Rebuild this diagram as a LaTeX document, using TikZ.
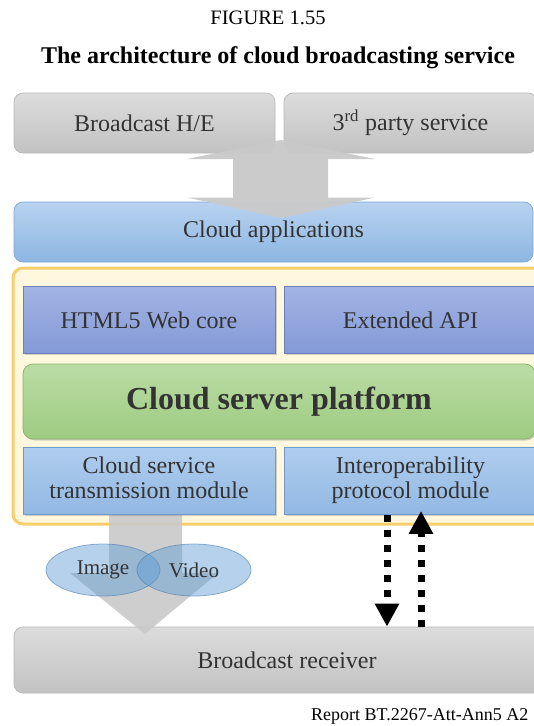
\documentclass[tikz,border=0pt]{standalone}
\usepackage{fontspec}
\setmainfont{Liberation Serif}
\usetikzlibrary{arrows.meta,shadows,shapes.geometric,positioning}
\tikzset{every picture/.style={line width=0.75pt}}

\definecolor{txtgray}{HTML}{333333}
\definecolor{graytop}{HTML}{DCDCDC}
\definecolor{graybot}{HTML}{C2C2C2}
\definecolor{graybd}{HTML}{B8B8B8}
\definecolor{apptop}{HTML}{B8D2EF}
\definecolor{appbot}{HTML}{8DB6E2}
\definecolor{appbd}{HTML}{7FA8D6}
\definecolor{paneltop}{HTML}{FFF8DF}
\definecolor{panelbd}{HTML}{F8CF6A}
\definecolor{coretop}{HTML}{A3B4E5}
\definecolor{corebot}{HTML}{8399D6}
\definecolor{corebd}{HTML}{6A7FC0}
\definecolor{plattop}{HTML}{BADCA4}
\definecolor{platbot}{HTML}{9ECB82}
\definecolor{platbd}{HTML}{85B468}
\definecolor{modtop}{HTML}{AFCDEE}
\definecolor{modbot}{HTML}{92B8E3}
\definecolor{modbd}{HTML}{7199CC}
\definecolor{blkarrow}{HTML}{C9C9C9}
\definecolor{ellfill}{HTML}{5B9BD5}

\begin{document}
\begin{tikzpicture}[x=1pt,y=-1pt,
  lbl/.style={text=txtgray,font=\fontsize{24}{23}\selectfont,align=center},
  graybox/.style={lbl,rectangle,rounded corners=9pt,draw=graybd,
    top color=graytop,bottom color=graybot,inner sep=0pt},
  appbox/.style={lbl,rectangle,rounded corners=9pt,draw=appbd,
    top color=apptop,bottom color=appbot,inner sep=0pt},
  corebox/.style={lbl,rectangle,draw=corebd,top color=coretop,bottom color=corebot,
    inner sep=0pt,drop shadow={shadow xshift=1.5pt,shadow yshift=-1.5pt,opacity=.35}},
  modbox/.style={lbl,rectangle,draw=modbd,top color=modtop,bottom color=modbot,
    inner sep=0pt,drop shadow={shadow xshift=1.5pt,shadow yshift=-1.5pt,opacity=.35}},
  platbox/.style={rectangle,rounded corners=10pt,draw=platbd,top color=plattop,
    bottom color=platbot,inner sep=0pt,text=txtgray,
    font=\fontsize{32}{34}\selectfont\bfseries,
    drop shadow={shadow xshift=1.5pt,shadow yshift=-1.5pt,opacity=.35}},
  media/.style={ellipse,draw=ellfill!80!black,draw opacity=.6,fill=ellfill,fill opacity=.45,
    minimum width=114pt,minimum height=52pt,inner sep=0pt},
  medialbl/.style={text=txtgray,font=\fontsize{21}{21}\selectfont},
  dotarrow/.style={line width=7pt,dash pattern=on 7pt off 8pt,
    -{Triangle[width=23pt,length=23pt]}}]

  \useasboundingbox (0,0) rectangle (534,726);
  \clip (0,0) rectangle (534,726);
  \fill[white] (0,0) rectangle (534,726);

  % Caption
  \node[font=\fontsize{20.5}{21}\selectfont] (fig) at (268,18) {FIGURE 1.55};
  \node[font=\fontsize{24}{24}\selectfont\bfseries] (title) at (278,58)
    {The architecture of cloud broadcasting service};

  % Sources
  \node[graybox,minimum width=261pt,minimum height=60pt] (he) at (144.5,123) {Broadcast H/E};
  \node[graybox,minimum width=253pt,minimum height=60pt] (third) at (410.5,123)
    {3\textsuperscript{rd} party service};

  % Cloud applications
  \node[appbox,minimum width=519pt,minimum height=60pt] (apps) at (273.5,232) {Cloud applications};

  % Double block arrow
  \fill[blkarrow,opacity=.95] (281,140) -- (375,159) -- (328,159) -- (328,197.5) -- (375,197.5)
    -- (281,218) -- (187,197.5) -- (233,197.5) -- (233,159) -- (187,159) -- cycle;

  % Platform panel
  \draw[panelbd,line width=3pt,fill=paneltop,rounded corners=10pt] (13,268) rectangle (570,524);

  % Receiver
  \node[graybox,minimum width=546pt,minimum height=66pt] (recv) at (287,660) {Broadcast receiver};

  % Down block arrow
  \fill[blkarrow,opacity=.9] (109,510) -- (182,510) -- (182,573) -- (218,573) -- (145,634)
    -- (70,573) -- (109,573) -- cycle;

  % Platform parts
  \node[corebox,minimum width=252pt,minimum height=67pt] (html) at (149,320) {HTML5 Web core};
  \node[corebox,minimum width=253pt,minimum height=67pt] (api) at (410.5,320) {Extended API};
  \node[platbox,minimum width=512pt,minimum height=75pt] (plat) at (279,401.5) {Cloud server platform};
  \node[modbox,minimum width=252pt,minimum height=67pt] (trans) at (149,481)
    {\strut Cloud service\\\strut transmission module};
  \node[modbox,minimum width=253pt,minimum height=67pt] (interop) at (410.5,481)
    {\strut Interoperability\\\strut protocol module};

  % Media types
  \node[media] (img) at (103,570) {};
  \node[media] (vid) at (194,570) {};
  \node[medialbl] (imgtxt) at (img.center) {Image};
  \node[medialbl] (vidtxt) at (vid.center) {Video};

  % Interoperability links
  \coordinate (dl) at (387,0);
  \coordinate (dr) at (421,0);
  \draw[dotarrow] (dl |- interop.south) -- (dl |- recv.north);
  \draw[dotarrow,shorten >=-4pt] (dr |- recv.north) -- (dr |- interop.south);

  \node[anchor=east,font=\fontsize{18}{18}\selectfont] (rep) at (532,716) {Report BT.2267-Att-Ann5 A2};
\end{tikzpicture}
\end{document}
